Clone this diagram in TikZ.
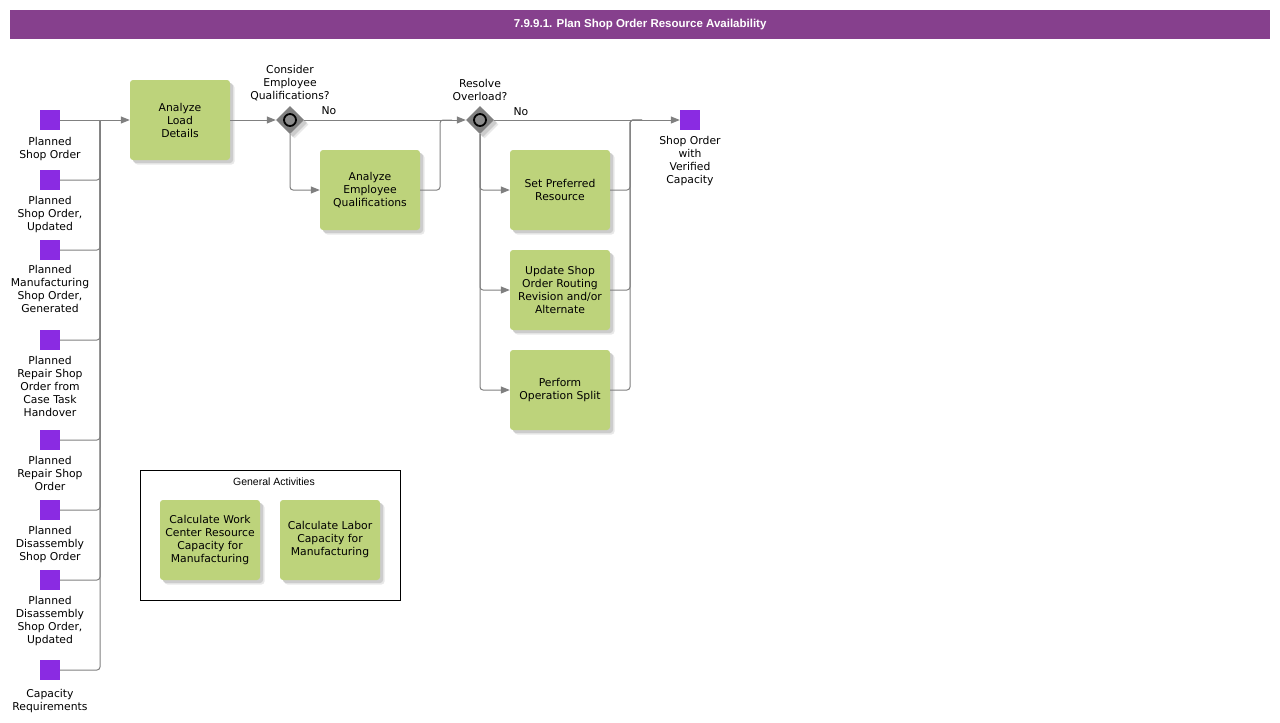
\documentclass[tikz,border=0pt]{standalone}
\usepackage{fontspec}
\setmainfont{DejaVu Sans}
\newfontfamily\arialfont{Liberation Sans}
\usetikzlibrary{shapes.geometric,arrows.meta,positioning,shadows}
\definecolor{titlebar}{RGB}{134,64,141}
\definecolor{evc}{RGB}{138,43,226}
\definecolor{taskc}{RGB}{189,211,123}
\definecolor{connc}{RGB}{128,128,128}
\definecolor{gwc}{RGB}{128,128,128}
\definecolor{gwin}{RGB}{140,140,140}
\newcommand\labfont{\fontsize{10.8}{13}\selectfont}
\begin{document}
\begin{tikzpicture}[x=1pt,y=-1pt,
  conn/.style={draw=connc, line width=1pt, rounded corners=3pt},
  arr/.style={-{Triangle[length=9pt,width=7pt]}},
  softshadow/.style={
    drop shadow={opacity=1, fill=black!9, shadow xshift=4.5pt, shadow yshift=-4.5pt},
    drop shadow={opacity=1, fill=black!20, shadow xshift=3pt, shadow yshift=-3pt}},
  task/.style={rectangle, rounded corners=3pt, fill=taskc, minimum width=100pt, minimum height=80pt,
    align=center, font=\labfont, inner sep=2pt, softshadow},
  event/.style={rectangle, fill=evc, minimum size=20pt, inner sep=0pt},
  evlab/.style={align=center, inner sep=0pt, font=\labfont},
  gw/.style={diamond, fill=gwc, minimum width=28pt, minimum height=28pt, inner sep=0pt, softshadow},
  gwc/.style={circle, draw=black, line width=1.8pt, fill=gwin, minimum size=12pt, inner sep=0pt}
]
\useasboundingbox (0,0) rectangle (1280,723);
% title
\node[fill=titlebar, minimum width=1260pt, minimum height=29pt, anchor=north west, inner sep=0pt,
  text=white, font=\arialfont\bfseries\fontsize{11.5}{13}\selectfont] (title) at (10,10)
  {\raisebox{-1pt}{7.9.9.1. Plan Shop Order Resource Availability}};

% input events
\node[event] (e1) at (50,120) {};
\node[event] (e2) at (50,180) {};
\node[event] (e3) at (50,250) {};
\node[event] (e4) at (50,340) {};
\node[event] (e5) at (50,440) {};
\node[event] (e6) at (50,510) {};
\node[event] (e7) at (50,580) {};
\node[event] (e8) at (50,670) {};
\node[evlab, anchor=north] (e1l) at (50,137) {Planned\\Shop Order};
\node[evlab, anchor=north] (e2l) at (50,196) {Planned\\Shop Order,\\Updated};
\node[evlab, anchor=north] (e3l) at (50,265) {Planned\\Manufacturing\\Shop Order,\\Generated};
\node[evlab, anchor=north] (e4l) at (50,356) {Planned\\Repair Shop\\Order from\\Case Task\\Handover};
\node[evlab, anchor=north] (e5l) at (50,456) {Planned\\Repair Shop\\Order};
\node[evlab, anchor=north] (e6l) at (50,526) {Planned\\Disassembly\\Shop Order};
\node[evlab, anchor=north] (e7l) at (50,596) {Planned\\Disassembly\\Shop Order,\\Updated};
\node[evlab, anchor=north] (e8l) at (50,689) {Capacity\\Requirements};

% tasks
\node[task] (ald) at (180,120) {Analyze\\Load\\Details};
\node[task] (aeq) at (370,190) {Analyze\\Employee\\Qualifications};
\node[task] (spr) at (560,190) {Set Preferred\\Resource};
\node[task] (usr) at (560,290) {Update Shop\\Order Routing\\Revision and/or\\Alternate};
\node[task] (pos) at (560,390) {Perform\\Operation Split};

% gateways
\node[gw] (g1) at (290,120) {};
\node[gwc] (g1c) at (290,120) {};
\node[gw] (g2) at (480,120) {};
\node[gwc] (g2c) at (480,120) {};
\node[evlab, anchor=north] (g1l) at (290,65) {Consider\\Employee\\Qualifications?};
\node[evlab, anchor=north] (g2l) at (480,79) {Resolve\\Overload?};
\node[font=\labfont, inner sep=0pt] (no1) at (329,111) {No};
\node[font=\labfont, inner sep=0pt] (no2) at (521,112) {No};

% output event
\node[event] (eout) at (690,120) {};
\node[evlab, anchor=north] (eoutl) at (690,136) {Shop Order\\with\\Verified\\Capacity};

% junction coordinates
\coordinate (bus) at (100,120);
\coordinate (j1) at (440,120);
\coordinate (j1e) at (452,120);
\coordinate (j2) at (630,120);
\coordinate (j2e) at (642,120);

% connectors
\draw[conn,arr] (e1.east) -- (ald.west);
\foreach \e in {e2,e3,e4,e5,e6,e7,e8}{\draw[conn] (\e.east) -| (bus);}
\draw[conn,arr] (ald.east) -- (g1.west);
\draw[conn,arr] (g1.east) -- (g2.west);
\draw[conn,arr] (g1.south) |- (aeq.west);
\draw[conn] (aeq.east) -| (j1) -- (j1e);
\draw[conn,arr] (g2.east) -- (eout.west);
\draw[conn,arr] (g2.south) |- (spr.west);
\draw[conn,arr] (g2.south) |- (usr.west);
\draw[conn,arr] (g2.south) |- (pos.west);
\draw[conn] (spr.east) -| (j2) -- (j2e);
\draw[conn] (usr.east) -| (j2) -- (j2e);
\draw[conn] (pos.east) -| (j2) -- (j2e);

% general activities
\node[draw=black, line width=0.8pt, minimum width=260pt, minimum height=130pt, anchor=north west, inner sep=0pt] (ga) at (140,470) {};
\node[font=\arialfont\fontsize{10.5}{12}\selectfont, inner sep=0pt] (gal) at (274,482) {General Activities};
\node[task] (cwc) at (210,540) {Calculate Work\\Center Resource\\Capacity for\\Manufacturing};
\node[task] (clc) at (330,540) {Calculate Labor\\Capacity for\\Manufacturing};
\end{tikzpicture}
\end{document}
